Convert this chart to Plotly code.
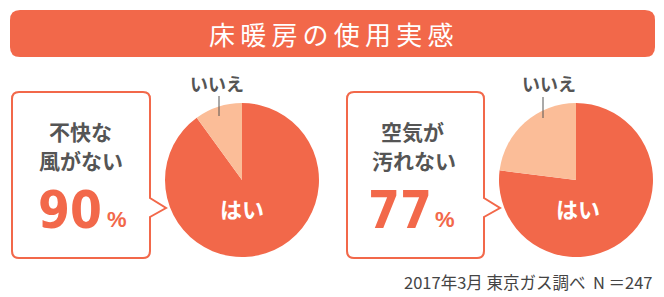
import plotly.graph_objects as go

# Data
labels = ["はい", "いいえ"]
pie1_values = [90, 10]
pie2_values = [77, 23]
title_text = "床暖房の使用実感"
box1_lines = ["不快な", "風がない"]
box2_lines = ["空気が", "汚れない"]
pct1 = "90"
pct2 = "77"
footer = "2017年3月 東京ガス調べ  N ＝247"

W, H = 664, 297
ORANGE = "#F2684A"
PEACH = "#FBBD98"
GRAY = "#555555"
JP = "Noto Sans CJK JP"
NUM = "DejaVu Sans Condensed, DejaVu Sans"

fig = go.Figure()

def pie_domain(cx, cy, r):
    return dict(x=[(cx - r) / W, (cx + r) / W], y=[1 - (cy + r) / H, 1 - (cy - r) / H])

for vals, cx in [(pie1_values, 242), (pie2_values, 576)]:
    fig.add_trace(go.Pie(
        labels=labels, values=vals, sort=False, direction="clockwise", rotation=0,
        marker=dict(colors=[ORANGE, PEACH], line=dict(width=0)),
        textinfo="none", hoverinfo="label+percent", showlegend=False,
        domain=pie_domain(cx, 180, 77),
    ))

fig.update_xaxes(range=[0, W], visible=False, fixedrange=True)
fig.update_yaxes(range=[H, 0], visible=False, fixedrange=True)

def rrect(x0, y0, x1, y1, r):
    return (f"M {x0+r},{y0} H {x1-r} Q {x1},{y0} {x1},{y0+r} V {y1-r} Q {x1},{y1} {x1-r},{y1} "
            f"H {x0+r} Q {x0},{y1} {x0},{y1-r} V {y0+r} Q {x0},{y0} {x0+r},{y0} Z")

def bubble(x0, y0, x1, y1, r, py0, tipx, tipy, py1):
    return (f"M {x0+r},{y0} H {x1-r} Q {x1},{y0} {x1},{y0+r} V {py0} L {tipx},{tipy} L {x1},{py1} "
            f"V {y1-r} Q {x1},{y1} {x1-r},{y1} H {x0+r} Q {x0},{y1} {x0},{y1-r} V {y0+r} Q {x0},{y0} {x0+r},{y0} Z")

shapes = [
    dict(type="path", path=rrect(10, 10, 655, 57, 10), xref="x", yref="y",
         fillcolor=ORANGE, line=dict(width=0), layer="below"),
    dict(type="path", path=bubble(12, 92, 150, 258, 7, 198, 166, 208, 217), xref="x", yref="y",
         fillcolor="white", line=dict(color=ORANGE, width=2), layer="below"),
    dict(type="path", path=bubble(347, 92, 484, 258, 7, 198, 500, 208, 217), xref="x", yref="y",
         fillcolor="white", line=dict(color=ORANGE, width=2), layer="below"),
    dict(type="line", x0=219, x1=219, y0=96, y1=116, xref="x", yref="y",
         line=dict(color=GRAY, width=1)),
    dict(type="line", x0=543, x1=543, y0=97, y1=118, xref="x", yref="y",
         line=dict(color=GRAY, width=1)),
]

ann = []
def txt(x, y, t, size, color, bold=False, family=JP, xanchor="center"):
    ann.append(dict(x=x, y=y, xref="x", yref="y", text=f"<b>{t}</b>" if bold else t,
                    showarrow=False, xanchor=xanchor, yanchor="middle",
                    font=dict(size=size, color=color, family=family)))

txt(331, 33, "\u2009".join(title_text), 26, "white")
# left box
txt(80, 131, box1_lines[0], 21, GRAY, bold=True)
txt(81, 160, box1_lines[1], 21, GRAY, bold=True)
txt(70, 210, pct1, 51, ORANGE, bold=True, family=NUM)
txt(117, 219, "%", 22, ORANGE, bold=True, family="Liberation Sans")
# right box
txt(412, 131, box2_lines[0], 21, GRAY, bold=True)
txt(414, 160, box2_lines[1], 21, GRAY, bold=True)
txt(400, 210, pct2, 51, ORANGE, bold=True, family=NUM)
txt(445, 219, "%", 22, ORANGE, bold=True, family="Liberation Sans")
# pie labels
txt(217, 83, labels[1], 18, GRAY, bold=True)
txt(549, 83, labels[1], 18, GRAY, bold=True)
txt(242, 208, labels[0], 22, "white", bold=True)
txt(578, 208, labels[0], 22, "white", bold=True)
# footer
txt(654, 282, footer, 16.5, "#444444", xanchor="right")

fig.update_layout(
    width=W, height=H, margin=dict(l=0, r=0, t=0, b=0),
    paper_bgcolor="white", plot_bgcolor="white",
    shapes=shapes, annotations=ann,
)

fig.write_html("out.html", config={"displayModeBar": False})
